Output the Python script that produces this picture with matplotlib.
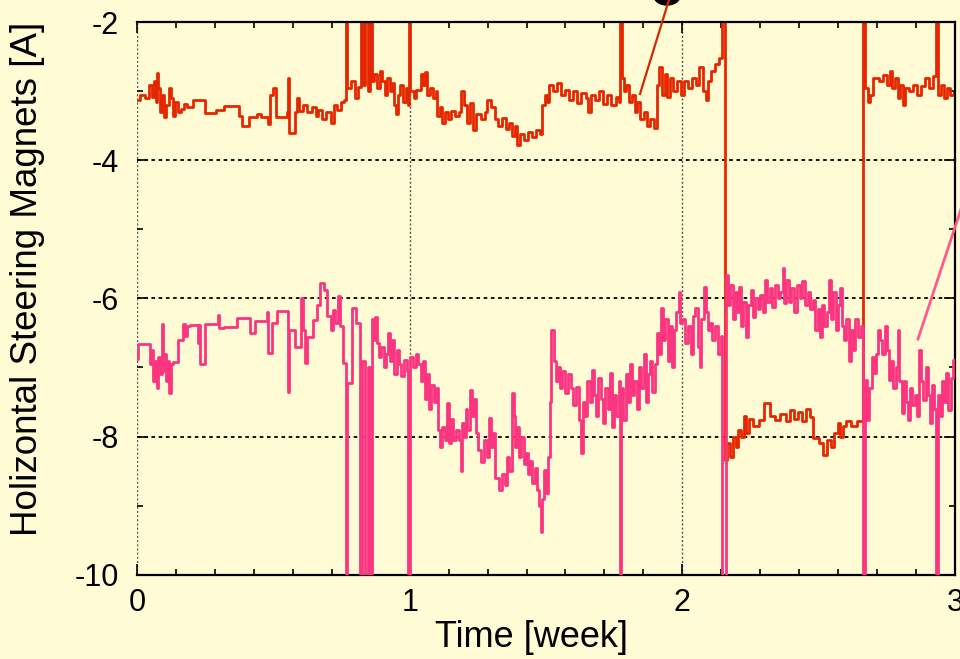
"""Horizontal steering magnet currents over three weeks of running."""

import matplotlib.pyplot as plt
from matplotlib.lines import Line2D
from matplotlib.patches import Ellipse
from matplotlib.ticker import MultipleLocator

# upper corrector (red); 0.0 marks read-back dropouts that go off scale
red_t = [
    0.000, 0.010, 0.030, 0.045, 0.055, 0.062, 0.068, 0.073, 0.078, 0.085,
    0.092, 0.100, 0.108, 0.118, 0.126, 0.133, 0.140, 0.150, 0.160, 0.172,
    0.185, 0.205, 0.250, 0.290, 0.320, 0.375, 0.385, 0.410, 0.440, 0.455,
    0.480, 0.486, 0.500, 0.510, 0.550, 0.553, 0.557, 0.578, 0.585, 0.595,
    0.610, 0.625, 0.640, 0.655, 0.665, 0.680, 0.695, 0.710, 0.722, 0.735,
    0.748, 0.760, 0.765, 0.772, 0.785, 0.800, 0.812, 0.820, 0.828, 0.836,
    0.848, 0.856, 0.861, 0.870, 0.880, 0.890, 0.900, 0.910, 0.918, 0.928,
    0.935, 0.942, 0.950, 0.957, 0.965, 0.975, 0.985, 0.993, 0.998, 1.003,
    1.015, 1.025, 1.040, 1.048, 1.055, 1.065, 1.075, 1.085, 1.095, 1.102,
    1.112, 1.120, 1.130, 1.140, 1.150, 1.165, 1.180, 1.190, 1.200, 1.210,
    1.220, 1.232, 1.245, 1.260, 1.275, 1.285, 1.300, 1.312, 1.325, 1.340,
    1.355, 1.365, 1.375, 1.385, 1.395, 1.405, 1.420, 1.435, 1.450, 1.465,
    1.478, 1.485, 1.495, 1.505, 1.512, 1.525, 1.540, 1.555, 1.570, 1.585,
    1.600, 1.615, 1.630, 1.645, 1.655, 1.665, 1.680, 1.695, 1.710, 1.725,
    1.740, 1.755, 1.768, 1.773, 1.778, 1.786, 1.795, 1.805, 1.815, 1.825,
    1.835, 1.845, 1.858, 1.870, 1.880, 1.895, 1.907, 1.915, 1.925, 1.935,
    1.945, 1.955, 1.965, 1.980, 1.995, 2.005, 2.020, 2.035, 2.050, 2.062,
    2.075, 2.085, 2.095, 2.105, 2.120, 2.135, 2.145, 2.155, 2.165, 2.175,
    2.185, 2.195, 2.205, 2.215, 2.225, 2.235, 2.245, 2.260, 2.280, 2.300,
    2.320, 2.340, 2.360, 2.380, 2.395, 2.410, 2.425, 2.440, 2.455, 2.470,
    2.480, 2.500, 2.515, 2.530, 2.545, 2.555, 2.570, 2.580, 2.590, 2.600,
    2.620, 2.640, 2.663, 2.670, 2.680, 2.690, 2.700, 2.720, 2.735, 2.750,
    2.760, 2.770, 2.780, 2.790, 2.800, 2.810, 2.818, 2.830, 2.845, 2.860,
    2.875, 2.890, 2.905, 2.920, 2.930, 2.937, 2.948, 2.960, 2.970, 2.982,
    2.995, 3.000,
]
red_i = [
    -3.12, -3.05, -3.10, -2.90, -3.08, -2.85, -3.15, -2.73, -2.95, -3.30,
    -3.05, -3.37, -3.20, -2.95, -3.10, -3.35, -3.15, -3.30, -3.25, -3.18,
    -3.22, -3.12, -3.31, -3.27, -3.21, -3.35, -3.50, -3.37, -3.33, -3.37,
    -3.47, -3.05, -2.95, -3.37, -3.30, -2.80, -3.60, -3.30, -3.10, -3.28,
    -3.20, -3.30, -3.22, -3.35, -3.27, -3.40, -3.30, -3.46, -3.20, -3.27,
    -3.15, -3.12, 0.00, -2.95, -2.85, -3.10, -2.93, 0.00, -2.90, 0.00,
    -3.00, 0.00, -2.85, -2.75, -2.95, -2.70, -2.85, -3.05, -2.80, -3.00,
    -2.88, -3.20, -3.32, -3.05, -2.90, -3.15, -2.95, -3.20, 0.00, -3.00,
    -3.10, -2.98, -2.75, -2.90, -2.72, -3.05, -2.95, -3.10, -3.00, -3.35,
    -3.22, -3.46, -3.30, -3.40, -3.28, -3.35, -3.30, -3.00, -3.20, -3.45,
    -3.17, -3.56, -3.33, -3.40, -3.30, -3.12, -3.22, -3.40, -3.50, -3.38,
    -3.55, -3.45, -3.65, -3.50, -3.78, -3.62, -3.70, -3.58, -3.66, -3.56,
    -3.62, -3.20, -3.05, -3.15, -2.90, -3.00, -2.88, -3.05, -2.98, -3.12,
    -3.00, -3.17, -3.02, -3.10, -3.30, -3.05, -3.12, -3.00, -3.18, -3.05,
    -3.20, -3.08, -3.15, 0.00, -2.80, -3.00, -2.90, -3.15, -3.05, -3.30,
    -3.15, -3.40, -3.30, -3.50, -3.40, -3.53, -2.90, -2.65, -3.05, -2.75,
    -3.08, -2.80, -3.00, -2.85, -3.05, -2.85, -2.95, -2.80, -2.90, -2.65,
    -3.00, -3.12, -2.85, -2.70, -2.60, -2.52, 0.00, -8.34, -8.10, -8.30,
    -8.00, -8.15, -7.90, -8.00, -7.70, -7.95, -7.75, -7.85, -7.76, -7.52,
    -7.70, -7.76, -7.68, -7.78, -7.62, -7.75, -7.65, -7.78, -7.60, -7.72,
    -8.02, -8.10, -8.27, -8.05, -8.15, -7.95, -7.80, -8.00, -7.85, -7.78,
    -7.85, -7.78, 0.00, -2.95, -3.15, -3.05, -2.80, -2.85, -2.76, -2.90,
    -2.70, -2.95, -2.80, -3.10, -2.90, -3.20, -2.95, -3.00, -2.90, -3.05,
    -2.92, -2.80, -2.95, -2.78, 0.00, -3.05, -2.90, -3.10, -2.95, -3.05,
    -3.00, -3.00,
]

# lower corrector (pink); -12.0 marks dropouts below the scale
pink_t = [
    0.000, 0.004, 0.048, 0.055, 0.060, 0.066, 0.072, 0.078, 0.085, 0.090,
    0.094, 0.100, 0.106, 0.112, 0.118, 0.124, 0.132, 0.150, 0.169, 0.176,
    0.184, 0.195, 0.222, 0.226, 0.231, 0.249, 0.297, 0.302, 0.320, 0.367,
    0.414, 0.433, 0.475, 0.480, 0.495, 0.513, 0.553, 0.558, 0.580, 0.603,
    0.608, 0.616, 0.622, 0.646, 0.660, 0.671, 0.685, 0.697, 0.710, 0.720,
    0.728, 0.737, 0.744, 0.755, 0.767, 0.772, 0.790, 0.805, 0.818, 0.826,
    0.836, 0.846, 0.855, 0.861, 0.868, 0.874, 0.880, 0.888, 0.896, 0.905,
    0.912, 0.920, 0.928, 0.936, 0.944, 0.952, 0.960, 0.970, 0.980, 0.990,
    0.995, 1.000, 1.012, 1.022, 1.032, 1.040, 1.048, 1.056, 1.064, 1.072,
    1.080, 1.088, 1.096, 1.104, 1.112, 1.120, 1.129, 1.136, 1.144, 1.152,
    1.160, 1.170, 1.180, 1.188, 1.193, 1.200, 1.206, 1.212, 1.220, 1.228,
    1.236, 1.244, 1.252, 1.262, 1.272, 1.282, 1.290, 1.298, 1.306, 1.314,
    1.326, 1.338, 1.348, 1.358, 1.366, 1.375, 1.382, 1.388, 1.395, 1.402,
    1.410, 1.418, 1.426, 1.434, 1.442, 1.450, 1.458, 1.467, 1.474, 1.480,
    1.486, 1.492, 1.500, 1.507, 1.514, 1.520, 1.528, 1.536, 1.544, 1.552,
    1.560, 1.570, 1.580, 1.590, 1.600, 1.610, 1.620, 1.630, 1.636, 1.644,
    1.652, 1.660, 1.668, 1.676, 1.684, 1.692, 1.700, 1.710, 1.718, 1.726,
    1.734, 1.742, 1.750, 1.758, 1.766, 1.771, 1.776, 1.784, 1.792, 1.800,
    1.808, 1.816, 1.824, 1.832, 1.840, 1.850, 1.858, 1.866, 1.874, 1.882,
    1.890, 1.898, 1.906, 1.914, 1.922, 1.930, 1.938, 1.946, 1.954, 1.962,
    1.970, 1.978, 1.986, 1.992, 2.000, 2.010, 2.020, 2.030, 2.040, 2.048,
    2.056, 2.064, 2.070, 2.078, 2.086, 2.094, 2.102, 2.110, 2.120, 2.130,
    2.140, 2.146, 2.160, 2.168, 2.176, 2.184, 2.192, 2.200, 2.208, 2.216,
    2.224, 2.232, 2.240, 2.250, 2.258, 2.266, 2.276, 2.286, 2.296, 2.304,
    2.312, 2.320, 2.330, 2.340, 2.350, 2.360, 2.368, 2.374, 2.382, 2.390,
    2.400, 2.410, 2.420, 2.430, 2.440, 2.450, 2.460, 2.470, 2.480, 2.488,
    2.496, 2.504, 2.512, 2.520, 2.530, 2.538, 2.546, 2.554, 2.562, 2.570,
    2.578, 2.586, 2.594, 2.602, 2.610, 2.618, 2.626, 2.634, 2.644, 2.654,
    2.663, 2.670, 2.678, 2.686, 2.694, 2.702, 2.710, 2.718, 2.726, 2.734,
    2.742, 2.750, 2.758, 2.766, 2.774, 2.782, 2.790, 2.796, 2.804, 2.812,
    2.820, 2.828, 2.836, 2.844, 2.852, 2.860, 2.868, 2.876, 2.884, 2.892,
    2.900, 2.908, 2.916, 2.924, 2.932, 2.937, 2.944, 2.952, 2.960, 2.968,
    2.976, 2.984, 2.992, 3.000,
]
pink_i = [
    -6.87, -6.66, -6.95, -6.75, -7.20, -6.90, -7.30, -6.85, -7.10, -6.37,
    -7.05, -6.80, -7.20, -6.90, -7.37, -6.95, -6.92, -6.60, -6.37, -6.55,
    -6.40, -6.38, -6.65, -6.38, -6.95, -6.37, -6.24, -6.43, -6.42, -6.28,
    -6.50, -6.32, -6.20, -6.79, -6.35, -6.18, -7.36, -6.45, -6.70, -6.00,
    -6.45, -6.94, -6.56, -6.31, -6.10, -5.78, -5.88, -6.25, -6.46, -6.17,
    -6.35, -5.96, -6.40, -6.94, -12.0, -7.23, -6.14, -6.35, -12.0, -6.90,
    -12.0, -7.00, -12.0, -6.30, -6.60, -6.27, -6.65, -6.85, -6.70, -6.99,
    -6.80, -6.50, -6.90, -6.60, -7.10, -6.75, -6.95, -7.13, -6.89, -7.05,
    -12.0, -6.85, -7.00, -6.80, -6.95, -7.20, -6.90, -7.45, -7.10, -7.60,
    -7.25, -7.50, -7.30, -7.90, -8.15, -7.86, -8.05, -7.52, -8.10, -7.75,
    -8.05, -7.90, -8.05, -8.50, -7.80, -8.00, -7.60, -7.90, -7.33, -7.70,
    -7.45, -7.95, -8.20, -8.37, -8.05, -8.30, -7.73, -8.15, -7.95, -8.60,
    -8.78, -8.55, -8.70, -8.30, -8.50, -7.37, -7.70, -8.15, -7.86, -8.30,
    -8.00, -8.40, -8.24, -8.55, -8.35, -8.68, -8.45, -8.78, -9.00, -9.38,
    -8.90, -8.49, -8.82, -8.30, -7.50, -6.46, -6.90, -7.20, -7.00, -7.30,
    -7.05, -7.37, -7.10, -7.30, -7.55, -7.28, -7.76, -8.24, -7.50, -7.70,
    -7.20, -7.50, -7.03, -7.40, -7.70, -7.15, -7.45, -7.80, -7.30, -7.60,
    -7.08, -7.86, -7.40, -7.70, -7.20, -12.0, -7.30, -7.76, -7.10, -7.50,
    -6.95, -7.40, -7.20, -7.60, -7.00, -7.30, -6.80, -7.50, -7.10, -6.90,
    -7.35, -6.95, -6.50, -6.80, -6.14, -6.60, -6.30, -6.90, -6.40, -6.99,
    -6.45, -6.20, -5.90, -6.35, -6.30, -6.65, -6.40, -6.80, -6.25, -6.14,
    -6.70, -7.00, -6.30, -5.83, -6.20, -6.45, -6.36, -6.60, -6.40, -6.80,
    -6.55, -12.0, -5.66, -6.10, -5.80, -6.30, -5.90, -6.20, -5.83, -6.40,
    -6.05, -6.56, -6.10, -5.88, -6.27, -6.00, -6.15, -5.95, -6.20, -5.73,
    -6.05, -5.85, -6.12, -5.80, -6.00, -5.90, -5.56, -6.07, -5.73, -6.05,
    -5.85, -6.20, -5.80, -6.00, -5.75, -6.10, -5.90, -6.15, -6.02, -6.45,
    -6.15, -6.56, -6.10, -6.40, -6.20, -5.73, -6.30, -5.90, -6.45, -6.10,
    -5.85, -6.40, -6.60, -6.30, -6.90, -6.45, -6.75, -6.30, -6.56, -6.40,
    -12.0, -7.18, -7.76, -7.30, -6.85, -7.08, -6.80, -6.45, -6.60, -6.80,
    -6.40, -6.75, -7.18, -6.90, -7.30, -6.99, -6.45, -7.20, -7.66, -7.20,
    -7.50, -7.76, -7.30, -7.55, -7.40, -7.70, -6.75, -7.20, -7.47, -7.00,
    -7.40, -7.80, -7.25, -7.60, -12.0, -7.40, -7.70, -7.20, -7.50, -7.08,
    -7.62, -7.15, -6.89, -6.89,
]

BG = "#fffcd5"
RED = "#e52700"
PINK = "#fb3580"

plt.rcParams["font.family"] = ["Liberation Sans", "DejaVu Sans"]
plt.rcParams["axes.unicode_minus"] = False

fig = plt.figure(figsize=(9.6, 6.59), dpi=100, facecolor=BG)
ax = fig.add_axes([0.1427, 0.1282, 0.8521, 0.8377], facecolor=BG)

ax.plot(red_t, red_i, drawstyle="steps-post", color=RED, lw=2.0, zorder=2)
ax.plot(pink_t, pink_i, drawstyle="steps-post", color=PINK, lw=2.0, zorder=3)

ax.set_xlim(0, 3)
ax.set_ylim(-10, -2)
ax.xaxis.set_major_locator(MultipleLocator(1))
ax.xaxis.set_minor_locator(MultipleLocator(1 / 7))  # one tick per day
ax.yaxis.set_major_locator(MultipleLocator(2))
ax.yaxis.set_minor_locator(MultipleLocator(1))

ax.tick_params(which="both", direction="in", top=True, right=True, width=1.2)
ax.tick_params(which="major", length=8, labelsize=22)
ax.tick_params(axis="x", which="major", pad=10)
ax.tick_params(axis="y", which="major", pad=13)
ax.tick_params(which="minor", length=4)

ax.set_axisbelow(True)
ax.grid(axis="y", which="major", color="black", lw=1.3, linestyle=(0, (2, 2)))
ax.grid(axis="x", which="major", color="#555555", lw=1.0, linestyle=(0, (1.5, 1.5)))

for side in ("top", "right", "bottom"):
    ax.spines[side].set_linewidth(1.6)
ax.spines["left"].set_visible(False)

ax.set_xlabel("Time [week]", fontsize=26)
ax.set_ylabel("Holizontal Steering Magnets [A]", fontsize=26.5)
ax.xaxis.set_label_coords(0.482, -0.082)
ax.yaxis.set_label_coords(-0.112, 0.535)

# leader lines running off to labels outside the frame
fig.add_artist(Line2D([640 / 960, 672 / 960], [1 - 94 / 659, 1 + 10 / 659],
                      transform=fig.transFigure, color="#d42a00", lw=1.6,
                      clip_on=False))
fig.add_artist(Ellipse((667 / 960, 1 + 4 / 659), 26 / 960, 18 / 659,
                       transform=fig.transFigure, color="black", clip_on=False))
fig.add_artist(Line2D([918 / 960, 965 / 960], [1 - 339 / 659, 1 - 197 / 659],
                      transform=fig.transFigure, color="#ff5a8c", lw=2.0,
                      clip_on=False))

fig.savefig("out.png", dpi=100, facecolor=fig.get_facecolor())
